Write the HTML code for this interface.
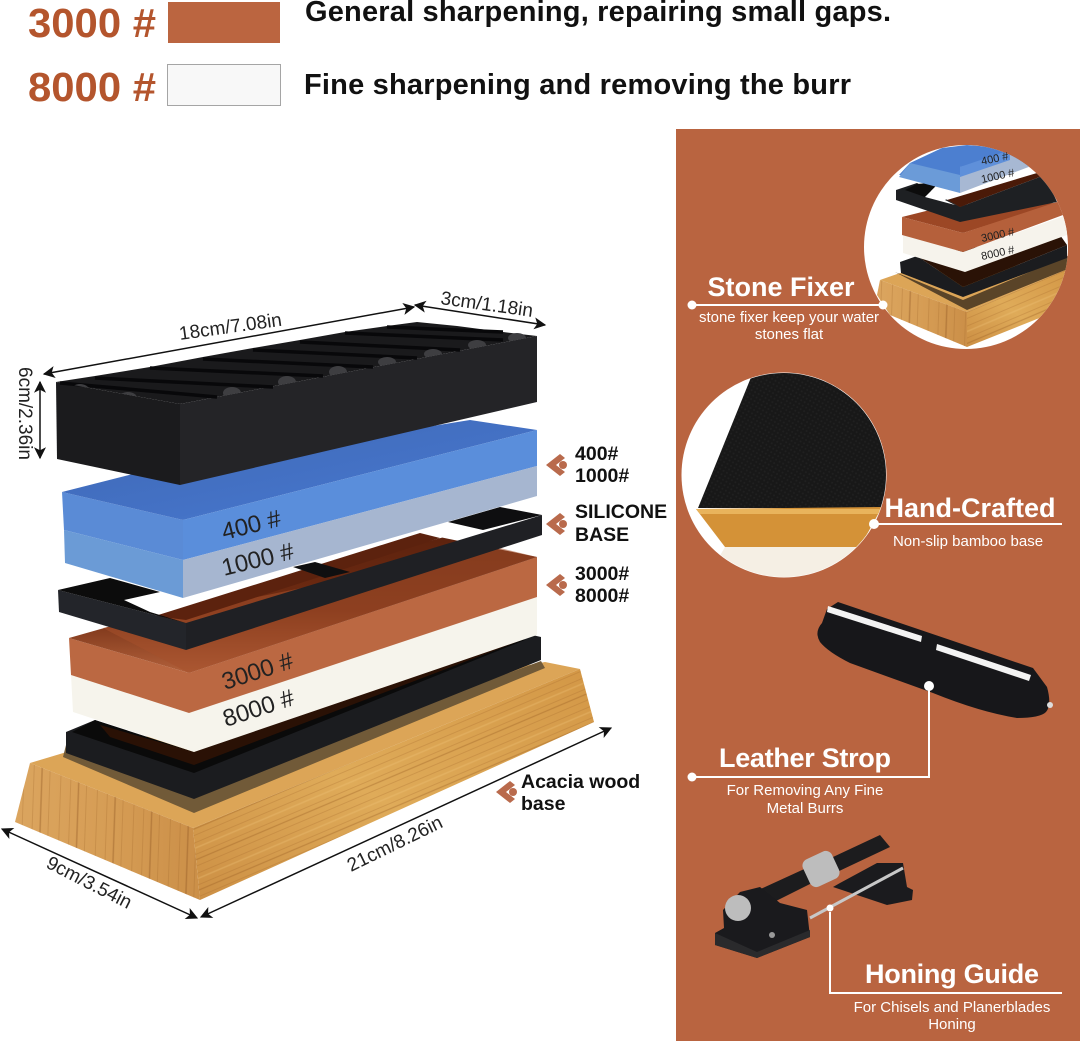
<!DOCTYPE html>
<html><head><meta charset="utf-8"><style>
html,body{margin:0;padding:0;background:#fff}
svg{display:block}
text{font-family:"Liberation Sans",sans-serif}
</style></head><body>
<svg width="1080" height="1041" viewBox="0 0 1080 1041" xmlns="http://www.w3.org/2000/svg">
<defs>
<linearGradient id="woodL" x1="0" x2="1" y1="0" y2="0"><stop offset="0" stop-color="#dba55f"/><stop offset=".5" stop-color="#d69d55"/><stop offset="1" stop-color="#cb8f48"/></linearGradient>
<linearGradient id="woodR" x1="0" x2="1" y1="1" y2="0"><stop offset="0" stop-color="#cc8f44"/><stop offset=".45" stop-color="#dfab59"/><stop offset="1" stop-color="#d39746"/></linearGradient>
<linearGradient id="blueTop" x1="0" x2="1" y1="0" y2="1"><stop offset="0" stop-color="#3f68b4"/><stop offset=".6" stop-color="#4472c6"/><stop offset="1" stop-color="#5a90de"/></linearGradient>
<linearGradient id="brownTop" x1="0" x2="0" y1="0" y2="1"><stop offset="0" stop-color="#5c220e"/><stop offset=".55" stop-color="#702c12"/><stop offset="1" stop-color="#b2603a"/></linearGradient>
<pattern id="grainV" width="37" height="10" patternUnits="userSpaceOnUse" patternTransform="rotate(2)"><path d="M3 0V10M14 0V10M24 0V10" stroke="#a0662c" stroke-width="1" opacity=".28" fill="none"/><path d="M32 0V10" stroke="#8f5522" stroke-width="1.500" opacity=".4"/></pattern>
<pattern id="grainH" width="20" height="29" patternUnits="userSpaceOnUse" patternTransform="rotate(-23)"><path d="M0 4H20M0 11H20M0 22H20" stroke="#a5682b" stroke-width="1" opacity=".28" fill="none"/><path d="M0 16H20" stroke="#f1c77d" stroke-width="1.500" opacity=".3"/><path d="M0 27H20" stroke="#94581f" stroke-width="1.300" opacity=".35"/></pattern>
<pattern id="mesh" width="4" height="4" patternUnits="userSpaceOnUse" patternTransform="rotate(30)"><rect width="4" height="4" fill="#181818"/><circle cx="2" cy="2" r="1" fill="#202020"/></pattern>
<marker id="ar" viewBox="0 0 10 10" refX="9" refY="5" markerWidth="9" markerHeight="8" markerUnits="strokeWidth" orient="auto-start-reverse"><path d="M0 0L10 5L0 10L2.500 5Z" fill="#111"/></marker>
<g id="chev"><path d="M0 0L14 -11L19 -7L10 0L19 7L14 11Z" fill="#b96a4c"/><circle cx="17" cy="0" r="4" fill="#b96a4c"/></g>
<clipPath id="fixFront"><path d="M56 382L180 404L537 336V300H40V400Z"/></clipPath>
</defs>
<rect width="1080" height="1041" fill="#fff"/>
<!-- header -->
<text x="28" y="37" font-size="41" font-weight="700" fill="#b4552d" textLength="128" lengthAdjust="spacingAndGlyphs">3000 #</text>
<rect x="168" y="2" width="112" height="41" fill="#bb6540"/>
<text x="305" y="21" font-size="29" font-weight="700" fill="#111" textLength="586">General sharpening, repairing small gaps.</text>
<text x="28" y="101" font-size="41" font-weight="700" fill="#b4552d" textLength="128" lengthAdjust="spacingAndGlyphs">8000 #</text>
<rect x="167.500" y="64.500" width="113" height="41" fill="#f8f8f8" stroke="#a5a5a5"/>
<text x="304" y="94" font-size="29" font-weight="700" fill="#111" textLength="547">Fine sharpening and removing the burr</text>
<!-- right panel -->
<rect x="676" y="129" width="404" height="912" fill="#b96440"/>
<!-- circle 1 -->
<circle cx="966" cy="247" r="102" fill="#fff"/>
<clipPath id="c1"><circle cx="966" cy="247" r="102"/></clipPath>
<g clip-path="url(#c1)">
<path d="M880 280L900 273L1070 262V268L967 312Z" fill="#dca557"/>
<path d="M880 280L967 312V347L890 315L877 295Z" fill="url(#woodL)"/>
<path d="M880 280L967 312V347L890 315L877 295Z" fill="url(#grainV)"/>
<path d="M967 312L1070 268V300L1047 315L967 347Z" fill="url(#woodR)"/>
<path d="M967 312L1070 268V300L1047 315L967 347Z" fill="url(#grainH)"/>
<path d="M895 272L963 300L1070 255V268L967 310Z" fill="#5a4428"/>
<path d="M900 262L917 256L963 287L1067 245V258L963 297L901 273Z" fill="#1b1c1f"/>
<path d="M917 256L963 287L1067 245L1060 235Z" fill="#2a1206"/>
<path d="M903 235L963 252L1067 215V235L965 272L903 253Z" fill="#f6f3ec"/>
<path d="M902 217L950 205L1057 203L963 233Z" fill="#9c4725"/>
<path d="M902 217L963 233L1063 200V215L963 252L902 235Z" fill="#b5603b"/>
<path d="M947 200L1037 173L1045 175L960 207Z" fill="#4a1a08"/>
<path d="M896 190L917 183L960 207L1045 175L1057 202L960 222L896 200Z" fill="#1e2023"/>
<path d="M917 184L940 182L925 197L905 190Z" fill="#0c0c0c"/>
<path d="M925 197L940 182L960 193L945 200L955 205Z" fill="#fff"/>
<path d="M899 175L910 163L942 148L967 145L1003 148L1040 165L960 175Z" fill="#4c7fd0"/>
<path d="M899 177L910 163L960 175V193Z" fill="#6b9bd8"/>
<path d="M960 167L1023 150L1034 165L960 193Z" fill="#a7b8d3"/>
<path d="M960 167L1010 150V160L960 177Z" fill="#5f90da"/>
</g>
<g fill="#222" font-size="11">
<text x="982" y="165" transform="rotate(-12 982 165)">400 #</text>
<text x="982" y="183" transform="rotate(-12 982 183)">1000 #</text>
<text x="982" y="242" transform="rotate(-12 982 242)">3000 #</text>
<text x="982" y="260" transform="rotate(-12 982 260)">8000 #</text>
</g>
<!-- stone fixer text -->
<path d="M692 305H883" stroke="#fff" stroke-width="2"/><circle cx="692" cy="305" r="4.500" fill="#fff"/><circle cx="883" cy="305" r="4.500" fill="#fff"/>
<text x="781" y="296" font-size="27" font-weight="700" fill="#fff" text-anchor="middle">Stone Fixer</text>
<text x="789" y="322" font-size="15" fill="#fff" text-anchor="middle">stone fixer keep your water</text>
<text x="789" y="339" font-size="15" fill="#fff" text-anchor="middle">stones flat</text>
<!-- circle 2 -->
<circle cx="784" cy="475" r="102.500" fill="#fff"/>
<clipPath id="c2"><circle cx="784" cy="475" r="102"/></clipPath>
<g clip-path="url(#c2)">
<path d="M754 370H890V508H698Z" fill="url(#mesh)"/>
<path d="M696 509L882 507L860 547H725Z" fill="#d49237"/>
<path d="M696 509H882V514H700Z" fill="#e9b45c"/>
<path d="M725 547H860L850 590H700Z" fill="#f5efe4"/>
</g>
<path d="M874 524H1062" stroke="#fff" stroke-width="2"/><circle cx="874" cy="524" r="5" fill="#fff"/>
<text x="970" y="517" font-size="27" font-weight="700" fill="#fff" text-anchor="middle">Hand-Crafted</text>
<text x="968" y="546" font-size="15" fill="#fff" text-anchor="middle">Non-slip bamboo base</text>
<!-- strop -->
<path d="M827 609L838 602L1033 668L1047 687Q1052 705 1046 712Q1040 718 1017 718Q980 712 933 693L850 663Q828 652 820 642Q814 632 822 623Z" fill="#17171a"/>
<path d="M828 606L922 636L921 642L827 612Z" fill="#f3f3f3"/>
<path d="M937 644L1031 675L1029 681L936 650Z" fill="#f3f3f3"/>
<circle cx="1050" cy="705" r="3" fill="#ddd"/>
<path d="M692 777H929V686" stroke="#fff" stroke-width="2" fill="none"/><circle cx="692" cy="777" r="4.500" fill="#fff"/><circle cx="929" cy="686" r="5" fill="#fff"/>
<text x="805" y="767" font-size="27" font-weight="700" fill="#fff" text-anchor="middle" textLength="172">Leather Strop</text>
<text x="805" y="795" font-size="15" fill="#fff" text-anchor="middle">For Removing Any Fine</text>
<text x="805" y="813" font-size="15" fill="#fff" text-anchor="middle">Metal Burrs</text>
<!-- honing guide -->
<path d="M833 857L880 835L890 847L837 872Z" fill="#1c1c1e"/>
<path d="M840 883L877 863L903 863L907 887L913 890L912 900L887 905L833 887Z" fill="#1b1b1e"/>
<path d="M743 897L813 865L818 880L748 915Z" fill="#1c1c1e"/>
<path d="M723 910L740 892L760 887L780 903L807 910L810 937L757 958L715 945V933L724 928Z" fill="#1a1a1d"/>
<path d="M715 933L757 952L810 930V937L757 958L715 945Z" fill="#2a2a2c"/>
<rect x="805" y="854" width="32" height="30" rx="7" fill="#bdbdbd" transform="rotate(-25 821 869)"/>
<path d="M810 918L903 868" stroke="#c8c8c8" stroke-width="3"/>
<circle cx="738" cy="908" r="13" fill="#bdbdbd"/>
<circle cx="772" cy="935" r="3" fill="#999"/>
<path d="M830 912V993H1062" stroke="#fff" stroke-width="2" fill="none"/>
<circle cx="830" cy="908" r="3.500" fill="#fff"/>
<text x="952" y="983" font-size="27" font-weight="700" fill="#fff" text-anchor="middle" textLength="174">Honing Guide</text>
<text x="952" y="1012" font-size="15" fill="#fff" text-anchor="middle">For Chisels and Planerblades</text>
<text x="952" y="1029" font-size="15" fill="#fff" text-anchor="middle">Honing</text>
<!-- base wood -->
<path d="M30 763L70 751L545 662L580 669L193 828Z" fill="#dca557"/>
<path d="M30 763L193 828L200 900L15 822Z" fill="url(#woodL)"/>
<path d="M30 763L193 828L200 900L15 822Z" fill="url(#grainV)"/>
<path d="M193 828L580 669L594 722L200 900Z" fill="url(#woodR)"/>
<path d="M193 828L580 669L594 722L200 900Z" fill="url(#grainH)"/>
<path d="M63 757L194 813L545 668L541 661L195 790L66 745Z" fill="#715a38"/>
<!-- bottom silicone -->
<path d="M66 732L95 720L194 755L510 630L541 637V660L194 799L66 753Z" fill="#1b1c1f"/>
<path d="M95 720L194 752L510 632L525 640L194 773L72 732Z" fill="#0a0a0a"/>
<path d="M110 737L194 765L522 640L480 645L194 752L100 725Z" fill="#2a1105"/>
<!-- white + brown stones -->
<path d="M71 675L189 713L537 597V635L194 752L73 712Z" fill="#f6f4ec"/>
<path d="M69 638L189 673L537 557V597L189 713L71 675Z" fill="#bb6842"/>
<path d="M69 638L157 613L420 533L537 557L189 673Z" fill="url(#brownTop)"/>
<path d="M103 628L189 673L537 557L500 548Z" fill="#a5512c" opacity=".55"/>
<text x="225" y="690" font-size="24" fill="#222" transform="rotate(-18 225 690)">3000 #</text>
<text x="226" y="727" font-size="24" fill="#222" transform="rotate(-18 226 727)">8000 #</text>
<!-- top silicone -->
<path d="M124 598L183 596L430 525L470 530L155 616Z" fill="#fff"/>
<path d="M155 616L420 533L440 538L186 620Z" fill="#5c220e"/>
<path d="M58 590L186 623V650L59 612Z" fill="#23252a"/>
<path d="M186 623L542 515V535L186 650Z" fill="#1f2024"/>
<path d="M58 590L110 578L160 592L124 600L150 612L186 623Z" fill="#0c0c0c"/>
<path d="M448 522L500 507L542 515L483 530Z" fill="#0e0e10"/>
<path d="M293 567L315 562L350 572L325 578Z" fill="#0f0f10"/>
<!-- blue stone -->
<path d="M62 492L183 520V560L64 530Z" fill="#5a8bd6"/>
<path d="M64 530L183 560V598L65 563Z" fill="#6b9bd6"/>
<path d="M62 492L133 474L470 420L537 430L183 520Z" fill="url(#blueTop)"/>
<path d="M183 520L537 430V466L183 560Z" fill="#5a8edb"/>
<path d="M183 560L537 466V496L183 598Z" fill="#a6b6d0"/>
<text x="224" y="540" font-size="24" fill="#222" transform="rotate(-14 224 540)">400 #</text>
<text x="224" y="576" font-size="24" fill="#222" transform="rotate(-14 224 576)">1000 #</text>
<!-- fixer -->
<path d="M56 382L180 404V485L57 459Z" fill="#1b1b1d"/>
<path d="M56 382L95 376L150 367L203 357L253 348L300 340L345 332L387 326L417 322L457 326L503 332L537 336L180 404Z" fill="#1a1a1c"/>
<path d="M180 404L537 336V402L180 485Z" fill="#242427"/>
<g stroke="#08080a" stroke-width="3.500" fill="none">
<path d="M60 383L217 397M95 378L273 387M150 368L323 376M203 359L373 367M253 350L417 358M300 342L460 350M345 333L503 340M387 327L503 332"/>
</g>
<g fill="#3e3e41" clip-path="url(#fixFront)">
<ellipse cx="80" cy="390" rx="9" ry="6"/><ellipse cx="128" cy="398" rx="9" ry="6"/><ellipse cx="232" cy="393" rx="9" ry="6"/><ellipse cx="287" cy="382" rx="9" ry="6"/><ellipse cx="338" cy="372" rx="9" ry="6"/><ellipse cx="387" cy="362" rx="9" ry="5"/><ellipse cx="433" cy="354" rx="9" ry="5"/><ellipse cx="477" cy="345" rx="9" ry="5"/><ellipse cx="517" cy="338" rx="9" ry="5"/>
</g>
<!-- dimensions -->
<g stroke="#111" stroke-width="1.500" fill="none">
<path d="M44 374L414 307" marker-start="url(#ar)" marker-end="url(#ar)"/>
<path d="M415 305L545 325" marker-start="url(#ar)" marker-end="url(#ar)"/>
<path d="M40 382V458" marker-start="url(#ar)" marker-end="url(#ar)"/>
<path d="M2 829L197 918" marker-start="url(#ar)" marker-end="url(#ar)"/>
<path d="M201 917L611 728" marker-start="url(#ar)" marker-end="url(#ar)"/>
</g>
<g font-size="19" fill="#222">
<text x="180" y="340" transform="rotate(-8 180 340)">18cm/7.08in</text>
<text x="440" y="304" transform="rotate(8 440 304)">3cm/1.18in</text>
<text x="19" y="367" transform="rotate(90 19 367)">6cm/2.36in</text>
<text x="45" y="867" transform="rotate(27 45 867)">9cm/3.54in</text>
<text x="351" y="872" transform="rotate(-26 351 872)">21cm/8.26in</text>
</g>
<!-- side labels -->
<use href="#chev" x="546" y="465"/>
<use href="#chev" x="546" y="524"/>
<use href="#chev" x="546" y="585"/>
<use href="#chev" x="496" y="792"/>
<g font-size="19.500" font-weight="700" fill="#111">
<text x="575" y="460">400#</text>
<text x="575" y="482">1000#</text>
<text x="575" y="518">SILICONE</text>
<text x="575" y="541">BASE</text>
<text x="575" y="580">3000#</text>
<text x="575" y="602">8000#</text>
<text x="521" y="788">Acacia wood</text>
<text x="521" y="810">base</text>
</g>
</svg>
</body></html>
